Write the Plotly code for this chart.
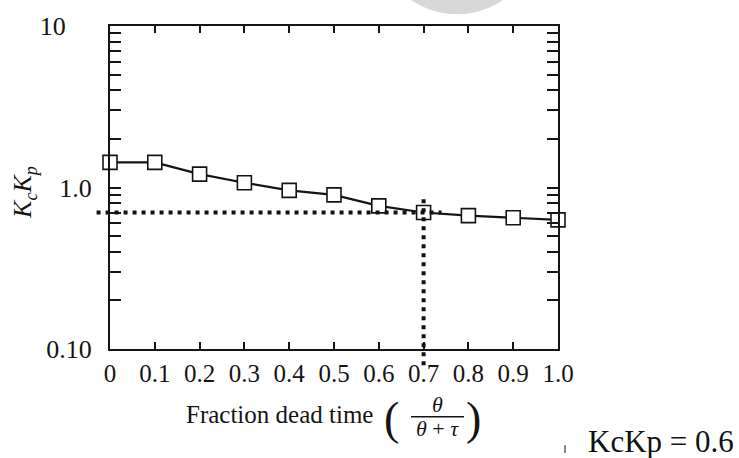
import math
import plotly.graph_objects as go

# ---- data ----
fraction_dead_time = [0.0, 0.1, 0.2, 0.3, 0.4, 0.5, 0.6, 0.7, 0.8, 0.9, 1.0]
kc_kp = [1.43, 1.43, 1.21, 1.07, 0.96, 0.90, 0.77, 0.70, 0.67, 0.65, 0.63]
x_tick_vals = [0.0, 0.1, 0.2, 0.3, 0.4, 0.5, 0.6, 0.7, 0.8, 0.9, 1.0]
x_tick_text = ["0", "0.1", "0.2", "0.3", "0.4", "0.5", "0.6", "0.7", "0.8", "0.9", "1.0"]
top_tick_vals = [0.1, 0.2, 0.3, 0.4, 0.5, 0.6, 0.7, 0.8, 0.9]
y_tick_vals = [0.1, 1.0, 10.0]
y_tick_text = ["0.10", "1.0", "10&nbsp;&nbsp;&nbsp;&nbsp;"]
y_minor_vals = [m * d for d in (0.1, 1.0) for m in range(2, 10)]
ref_x = 0.7            # read-off fraction dead time
ref_y = 0.70           # read-off KcKp
ref_vline_top = 0.90   # top of vertical dotted guide

SERIF = "Liberation Serif, Times New Roman, serif"
INK = "#141414"

fig = go.Figure()
fig.add_trace(go.Scatter(
    x=fraction_dead_time, y=kc_kp, mode="lines+markers",
    line=dict(color=INK, width=2.2),
    marker=dict(symbol="square", size=14, color="white",
                line=dict(color=INK, width=1.6)),
    cliponaxis=False, showlegend=False, hoverinfo="skip"))
# invisible trace to activate the mirrored top/right axes
fig.add_trace(go.Scatter(
    x=fraction_dead_time, y=kc_kp, xaxis="x2", yaxis="y2",
    mode="lines", line=dict(width=0), opacity=0,
    showlegend=False, hoverinfo="skip"))

axis_common = dict(showline=True, linecolor=INK, linewidth=2, showgrid=False,
                   zeroline=False, ticks="inside", tickcolor=INK, tickwidth=2)

fig.update_layout(
    width=739, height=458,
    margin=dict(l=110, r=181, t=20, b=109),
    paper_bgcolor="white", plot_bgcolor="white",
    font=dict(family=SERIF, color=INK),
    xaxis=dict(range=[0, 1], tickvals=x_tick_vals, ticktext=x_tick_text,
               ticklen=7, tickfont=dict(size=25, family=SERIF, color=INK),
               ticklabelstandoff=1, **axis_common),
    xaxis2=dict(range=[0, 1], overlaying="x", side="top", anchor="y",
                tickvals=top_tick_vals, ticklen=7, showticklabels=False,
                **axis_common),
    yaxis=dict(type="log", range=[-1, 1], tickvals=y_tick_vals,
               ticktext=y_tick_text, ticklen=11,
               tickfont=dict(size=26, family=SERIF, color=INK),
               ticklabelstandoff=11,
               minor=dict(tickvals=y_minor_vals, ticks="inside", ticklen=11,
                          tickcolor=INK, tickwidth=2),
               **axis_common),
    yaxis2=dict(type="log", range=[-1, 1], overlaying="y", side="right",
                anchor="x", tickvals=y_tick_vals, ticklen=11,
                showticklabels=False,
                minor=dict(tickvals=y_minor_vals, ticks="inside", ticklen=11,
                           tickcolor=INK, tickwidth=2),
                **axis_common),
)

# dotted read-off guides
dot = dict(color="#111111", width=4, dash="4px,5px")
fig.add_shape(type="line", xref="x domain", yref="y",
              x0=-0.03, x1=ref_x + 0.04, y0=ref_y, y1=ref_y, line=dot)
fig.add_shape(type="line", xref="x", yref="y domain",
              x0=ref_x, x1=ref_x, y0=-0.05,
              y1=(math.log10(ref_vline_top) + 1) / 2, line=dot)

# pixel -> paper helpers for decorative text placement
L, T, W, H = 110, 20, 448, 329
px = lambda v: (v - L) / W
py = lambda v: (T + H - v) / H


def note(text, x, y, size, xanchor="center", angle=0, color=INK):
    fig.add_annotation(text=text, xref="paper", yref="paper", x=px(x), y=py(y),
                       xanchor=xanchor, yanchor="middle", showarrow=False,
                       textangle=angle,
                       font=dict(size=size, family=SERIF, color=color))


# y-axis title
note("<i>K<sub>c</sub>K<sub>p</sub></i>", 24, 190, 26, angle=-90)
# x-axis title with fraction
note("Fraction dead time", 184, 416, 25, xanchor="left")
note("(", 391, 420, 46)
note(")", 473, 420, 46)
note("<i>θ</i>", 437, 406, 22)
note("<i>θ</i> + <i>τ</i>", 437, 430, 22)
fig.add_shape(type="line", xref="paper", yref="paper", x0=px(411), x1=px(464),
              y0=py(418), y1=py(418), line=dict(color=INK, width=1.5))

# side note
note("KcKp = 0.6", 736, 443, 31, xanchor="right", color="#111111")
fig.add_shape(type="line", xref="paper", yref="paper", x0=px(565), x1=px(565),
              y0=py(447), y1=py(455), line=dict(color="#8877bb", width=2))

# scan artefact: faint grey disc at the top
fig.add_shape(type="circle", xref="paper", yref="paper", layer="below",
              x0=px(457 - 80), x1=px(457 + 80), y0=py(8), y1=py(-152),
              fillcolor="#d8d8d8", line=dict(width=0))

fig.write_html("out.html")
